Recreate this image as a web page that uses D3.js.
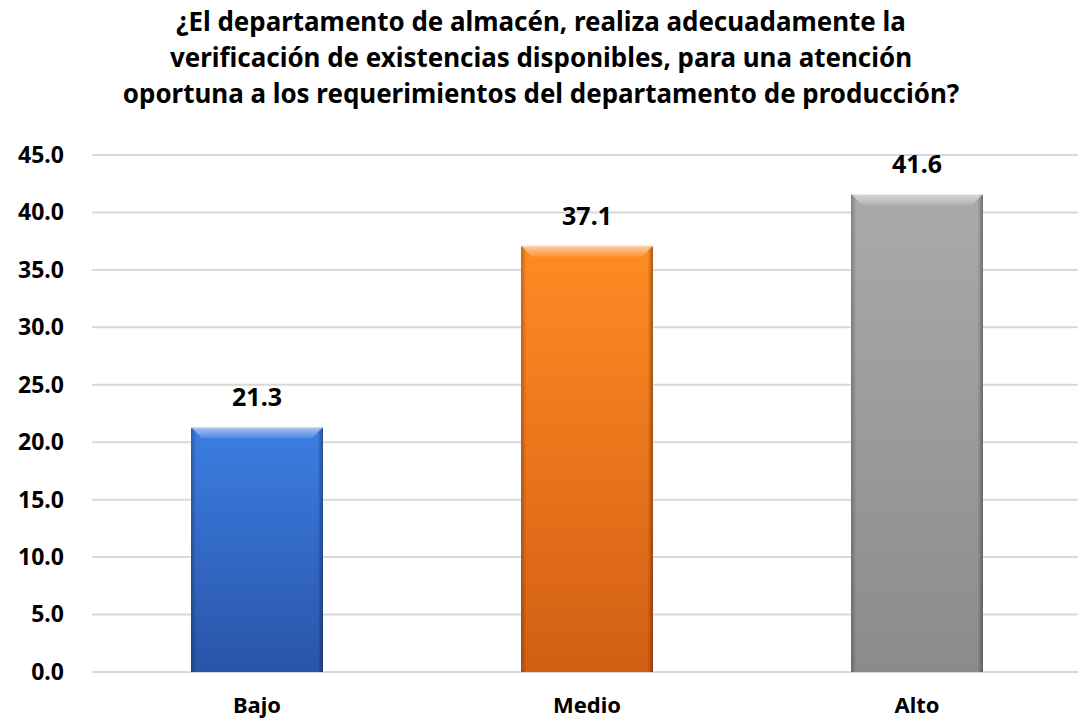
<!DOCTYPE html>
<html>
<head>
<meta charset="utf-8">
<script src="https://cdn.jsdelivr.net/npm/d3@7"></script>
<style>
  body { margin: 0; background: #fff; }
  svg { display: block; font-family: "Noto Sans", "DejaVu Sans", sans-serif; }
</style>
</head>
<body>
<script>
// chart data
const categories = ["Bajo", "Medio", "Alto"];
const values = [21.3, 37.1, 41.6];
const tickValues = [0, 5, 10, 15, 20, 25, 30, 35, 40, 45];
const titleLines = [
    "¿El departamento de almacén, realiza adecuadamente la",
    "verificación de existencias disponibles, para una atención",
    "oportuna a los requerimientos del departamento de producción?"
];
// top / bottom colours per bar
const barColors = [
    ["#3c7ee2", "#2954a8"],
    ["#ff8b24", "#d25e14"],
    ["#aaaaaa", "#8b8b8b"]
];

const w = 1082;
const h = 720;
const margin = { top: 155, right: 0, bottom: 48, left: 92 };

const svg = d3.select("body")
    .append("svg")
        .attr("width", w)
        .attr("height", h)

const x = d3.scaleBand()
    .domain(categories)
    .range([margin.left, w - margin.right])
    .paddingInner(0.6)
    .paddingOuter(0.3)

const y = d3.scaleLinear()
    .domain([0, 45])
    .range([h - margin.bottom, margin.top])

// gradients
const defs = svg.append("defs");
barColors.forEach((c, i) => {
    const g = defs.append("linearGradient")
        .attr("id", "grad" + i)
        .attr("x1", 0).attr("y1", 0).attr("x2", 0).attr("y2", 1)
    g.append("stop").attr("offset", "0%").attr("stop-color", c[0])
    g.append("stop").attr("offset", "100%").attr("stop-color", c[1])
});
const side = defs.append("linearGradient")
    .attr("id", "side")
    .attr("x1", 0).attr("y1", 0).attr("x2", 1).attr("y2", 0)
side.append("stop").attr("offset", "0%").attr("stop-color", "#000").attr("stop-opacity", 0.25)
side.append("stop").attr("offset", "4%").attr("stop-color", "#000").attr("stop-opacity", 0)
side.append("stop").attr("offset", "96%").attr("stop-color", "#000").attr("stop-opacity", 0)
side.append("stop").attr("offset", "100%").attr("stop-color", "#000").attr("stop-opacity", 0.35)
const bevel = defs.append("linearGradient")
    .attr("id", "bevel")
    .attr("x1", 0).attr("y1", 0).attr("x2", 0).attr("y2", 1)
bevel.append("stop").attr("offset", "0%").attr("stop-color", "#fff").attr("stop-opacity", 0.55)
bevel.append("stop").attr("offset", "100%").attr("stop-color", "#fff").attr("stop-opacity", 0.1)

// gridlines
svg.append("g")
    .selectAll("line")
    .data(tickValues)
    .enter()
    .append("line")
        .attr("x1", margin.left)
        .attr("x2", w - 4)
        .attr("y1", d => y(d))
        .attr("y2", d => y(d))
        .attr("stroke", "#d9d9d9")
        .attr("stroke-width", 2)

// y axis labels
const yAxis = svg.append("g")
    .attr("transform", "translate(" + 64 + ",0)")
    .call(d3.axisLeft(y).tickValues(tickValues).tickFormat(d3.format(".1f")).tickSize(0).tickPadding(0))
yAxis.select(".domain").remove()
yAxis.selectAll("text")
    .attr("font-family", "'Noto Sans', sans-serif")
    .attr("font-size", 23)
    .attr("font-weight", "bold")
    .attr("fill", "#000")

// bars
const bars = svg.append("g")
    .selectAll("g")
    .data(values)
    .enter()
    .append("g")

bars.append("rect")
    .attr("x", (d, i) => x(categories[i]))
    .attr("y", d => y(d))
    .attr("width", x.bandwidth())
    .attr("height", d => y(0) - y(d))
    .attr("fill", (d, i) => "url(#grad" + i + ")")

bars.append("rect")
    .attr("x", (d, i) => x(categories[i]))
    .attr("y", d => y(d))
    .attr("width", x.bandwidth())
    .attr("height", d => y(0) - y(d))
    .attr("fill", "url(#side)")

// bevel on top
bars.append("path")
    .attr("d", (d, i) => {
        const x0 = x(categories[i]), x1 = x0 + x.bandwidth(), t = y(d);
        return "M" + x0 + "," + t + "L" + x1 + "," + t + "L" + (x1 - 11) + "," + (t + 11) +
            "L" + (x0 + 11) + "," + (t + 11) + "Z";
    })
    .attr("fill", "url(#bevel)")

bars.append("line")
    .attr("x1", (d, i) => x(categories[i]))
    .attr("x2", (d, i) => x(categories[i]) + x.bandwidth())
    .attr("y1", d => y(d) + 0.5)
    .attr("y2", d => y(d) + 0.5)
    .attr("stroke", "#fff")
    .attr("stroke-opacity", 0.5)

// value labels
bars.append("text")
    .attr("x", (d, i) => x(categories[i]) + x.bandwidth() / 2)
    .attr("y", d => y(d) - 21)
    .attr("text-anchor", "middle")
    .attr("font-size", 25)
    .attr("font-weight", "bold")
    .text(d => d.toFixed(1))

// x axis labels
const xAxis = svg.append("g")
    .attr("transform", "translate(0," + (h - margin.bottom) + ")")
    .call(d3.axisBottom(x).tickSize(0).tickPadding(25))
xAxis.select(".domain").remove()
xAxis.selectAll("text")
    .attr("font-family", "'Noto Sans', sans-serif")
    .attr("font-size", 22)
    .attr("font-weight", "bold")
    .attr("fill", "#000")

// title
const title = svg.append("g")
    .selectAll("text")
    .data(titleLines)
    .enter()
    .append("text")
        .attr("x", 541)
        .attr("y", (d, i) => 31 + i * 36)
        .attr("text-anchor", "middle")
        .attr("font-size", 23)
        .attr("font-weight", "bold")
        .text(d => d)

// shrink title to match the width of the first line in the original (~730px)
const firstW = title.node().getComputedTextLength();
const fs = 23 * 730 / firstW;
title.attr("font-size", fs)
</script>
</body>
</html>
